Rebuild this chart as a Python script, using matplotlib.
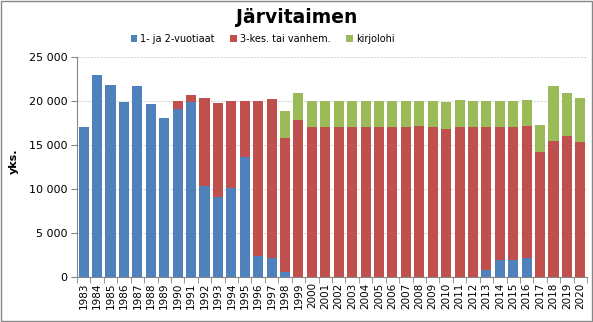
import numpy as np
import matplotlib.pyplot as plt
from matplotlib.patches import Rectangle

years = list(range(1983, 2021))

# stacked segments (yks.)
nuoret = [17000, 22900, 21800, 19800, 21700, 19600, 18000, 19100, 19900, 10300,
          9000, 10100, 13600, 2400, 2100, 500, 0, 0, 0, 0,
          0, 0, 0, 0, 0, 0, 0, 0, 0, 0,
          800, 1900, 1900, 2100, 0, 0, 0, 0]
vanhemmat = [0, 0, 0, 0, 0, 0, 0, 900, 800, 10000,
             10700, 9900, 6400, 17600, 18100, 15300, 17800, 17000, 17000, 17000,
             17000, 17000, 17000, 17000, 17000, 17100, 17000, 16800, 17000, 17000,
             16200, 15100, 15100, 15000, 14200, 15400, 16000, 15300]
kirjolohi = [0, 0, 0, 0, 0, 0, 0, 0, 0, 0,
             0, 0, 0, 0, 0, 3000, 3100, 3000, 3000, 3000,
             3000, 3000, 3000, 3000, 3000, 2900, 3000, 3100, 3100, 3000,
             3000, 3000, 3000, 3000, 3000, 6300, 4900, 5000]

labels = ["1- ja 2-vuotiaat", "3-kes. tai vanhem.", "kirjolohi"]
colors = ["#4F81BD", "#C0504D", "#9BBB59"]

fig = plt.figure(figsize=(5.93, 3.22), dpi=100)
ax = fig.add_axes([0.1298, 0.1407, 0.8602, 0.6833])

x = np.arange(len(years))
b1 = np.array(nuoret)
b2 = b1 + np.array(vanhemmat)
w = 0.75
ax.bar(x, nuoret, w, color=colors[0], label=labels[0], zorder=3)
ax.bar(x, vanhemmat, w, bottom=b1, color=colors[1], label=labels[1], zorder=3)
ax.bar(x, kirjolohi, w, bottom=b2, color=colors[2], label=labels[2], zorder=3)

ax.set_xlim(-0.5, len(years) - 0.5)
ax.set_ylim(0, 25000)
yt = np.arange(0, 25001, 5000)
ax.set_yticks(yt)
ax.set_yticklabels(["{:,}".format(v).replace(",", " ") for v in yt], fontsize=8)
ax.yaxis.grid(True, color="#d9d9d9", linestyle=(0, (2, 1)), linewidth=0.8, zorder=0)

ax.set_xticks(x)
ax.set_xticklabels([str(y) for y in years], rotation=90, fontsize=7.5)
ax.set_xticks(np.arange(-0.5, len(years)), minor=True)
ax.tick_params(axis="x", which="major", length=0, pad=4)
ax.tick_params(axis="x", which="minor", length=4, color="#868686")
ax.tick_params(axis="y", length=4, color="#868686", pad=3)

for s in ["top", "right"]:
    ax.spines[s].set_visible(False)
for s in ["left", "bottom"]:
    ax.spines[s].set_color("#868686")

fig.text(0.024, 0.5, "yks.", rotation=90, fontsize=8, fontweight="bold",
         ha="center", va="center")
fig.text(0.5, 0.945, "Järvitaimen", fontsize=13.5, fontweight="bold",
         ha="center", va="center")
fig.legend(loc="center", bbox_to_anchor=(0.443, 0.878), ncol=3, fontsize=7,
           frameon=False, handlelength=0.7, handleheight=0.7, handletextpad=0.3,
           columnspacing=1.6)

fig.patches.append(Rectangle((0.001, 0.002), 0.997, 0.995, transform=fig.transFigure,
                             fill=False, edgecolor="#868686", linewidth=1))

fig.savefig("out.png", dpi=100)
